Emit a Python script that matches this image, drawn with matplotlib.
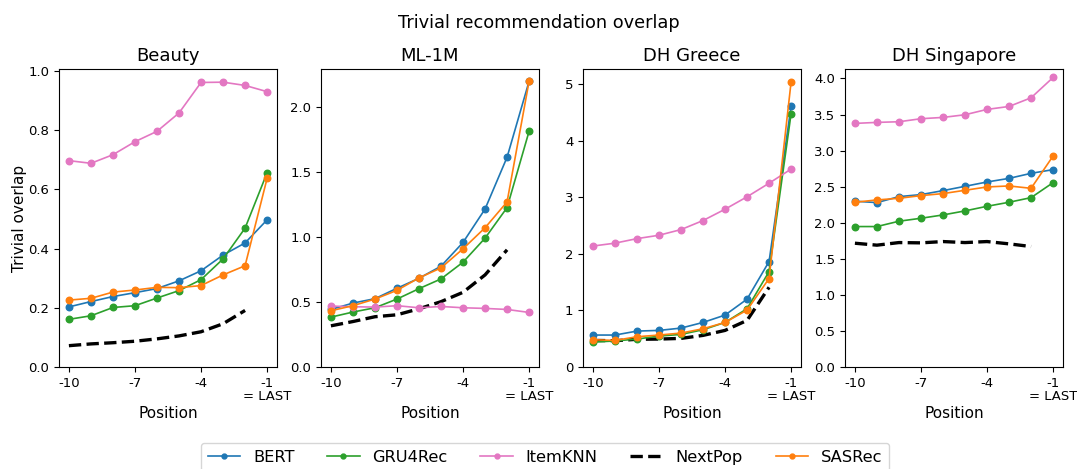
import matplotlib
matplotlib.use("Agg")
import matplotlib.pyplot as plt

positions = [-10, -9, -8, -7, -6, -5, -4, -3, -2, -1]
nextpop_positions = [-10, -9, -8, -7, -6, -5, -4, -3, -2]
tick_values = [-10, -7, -4, -1]
tick_labels = ["-10", "-7", "-4", "-1\n= LAST"]
datasets = ["Beauty", "ML-1M", "DH Greece", "DH Singapore"]
models = ["BERT", "GRU4Rec", "ItemKNN", "NextPop", "SASRec"]

# Beauty
beauty_bert = [0.203, 0.221, 0.238, 0.251, 0.265, 0.291, 0.325, 0.378, 0.419, 0.497]
beauty_gru = [0.161, 0.173, 0.201, 0.207, 0.233, 0.258, 0.295, 0.365, 0.469, 0.656]
beauty_knn = [0.697, 0.688, 0.717, 0.761, 0.796, 0.858, 0.961, 0.962, 0.951, 0.930]
beauty_pop = [0.072, 0.078, 0.082, 0.087, 0.095, 0.105, 0.119, 0.146, 0.191]
beauty_sas = [0.226, 0.232, 0.253, 0.260, 0.269, 0.268, 0.275, 0.311, 0.342, 0.637]

# ML-1M
ml_bert = [0.443, 0.492, 0.526, 0.606, 0.683, 0.776, 0.959, 1.216, 1.615, 2.200]
ml_gru = [0.384, 0.423, 0.456, 0.523, 0.603, 0.678, 0.807, 0.992, 1.227, 1.815]
ml_knn = [0.469, 0.464, 0.461, 0.472, 0.456, 0.466, 0.456, 0.451, 0.443, 0.420]
ml_pop = [0.317, 0.350, 0.387, 0.402, 0.448, 0.503, 0.575, 0.709, 0.902]
ml_sas = [0.433, 0.472, 0.523, 0.590, 0.686, 0.763, 0.910, 1.072, 1.271, 2.200]

# DH Greece
gr_bert = [0.565, 0.565, 0.635, 0.647, 0.688, 0.788, 0.918, 1.200, 1.865, 4.610]
gr_gru = [0.441, 0.460, 0.494, 0.547, 0.576, 0.659, 0.788, 1.030, 1.688, 4.480]
gr_knn = [2.139, 2.190, 2.270, 2.330, 2.430, 2.590, 2.790, 3.010, 3.250, 3.500]
gr_pop = [0.470, 0.465, 0.490, 0.494, 0.506, 0.559, 0.647, 0.824, 1.410]
gr_sas = [0.482, 0.470, 0.535, 0.565, 0.600, 0.676, 0.788, 1.006, 1.565, 5.040]

# DH Singapore
sg_bert = [2.298, 2.279, 2.362, 2.390, 2.445, 2.505, 2.565, 2.615, 2.685, 2.736]
sg_gru = [1.947, 1.947, 2.021, 2.062, 2.108, 2.164, 2.228, 2.284, 2.348, 2.556]
sg_knn = [3.377, 3.391, 3.400, 3.442, 3.460, 3.497, 3.571, 3.612, 3.732, 4.014]
sg_pop = [1.716, 1.689, 1.725, 1.721, 1.739, 1.725, 1.739, 1.707, 1.670]
sg_sas = [2.284, 2.316, 2.339, 2.376, 2.404, 2.450, 2.496, 2.510, 2.477, 2.925]

all_data = [
    [beauty_bert, beauty_gru, beauty_knn, beauty_pop, beauty_sas],
    [ml_bert, ml_gru, ml_knn, ml_pop, ml_sas],
    [gr_bert, gr_gru, gr_knn, gr_pop, gr_sas],
    [sg_bert, sg_gru, sg_knn, sg_pop, sg_sas],
]

colors = {"BERT": "#1f77b4", "GRU4Rec": "#2ca02c", "ItemKNN": "#e377c2",
          "NextPop": "black", "SASRec": "#ff7f0e"}

fig = plt.figure(figsize=(10.77, 4.69), dpi=100)
left0 = 59 / 1077
width = 218 / 1077
step = 262 / 1077
bottom = 1 - 367 / 469
height = (367 - 69) / 469

handles = []
for i, (name, series) in enumerate(zip(datasets, all_data)):
    ax = fig.add_axes([left0 + i * step, bottom, width, height])
    hs = []
    for model, vals in zip(models, series):
        if model == "NextPop":
            h, = ax.plot(nextpop_positions, vals, color="black", linestyle="--",
                         linewidth=2.4, label=model, zorder=2)
        else:
            h, = ax.plot(positions, vals, color=colors[model], marker="o",
                         markersize=4.7, linewidth=1.2, label=model, zorder=3)
        hs.append(h)
    if i == 0:
        handles = hs
        ax.set_ylabel("Trivial overlap", fontsize=11, labelpad=1)
    ax.set_ylim(bottom=0)
    ax.set_xticks(tick_values)
    ax.set_xticklabels(tick_labels)
    for lab in ax.get_xticklabels():
        lab.set_linespacing(1.0)
    ax.tick_params(labelsize=9.5)
    ax.set_xlabel("Position", fontsize=11, labelpad=2)
    ax.set_title(name, fontsize=13)

fig.suptitle("Trivial recommendation overlap", fontsize=12.8, y=0.97)
fig.legend(handles, models, loc="upper center", ncol=5, fontsize=11.7,
           bbox_to_anchor=(545 / 1077, 1 - 435 / 469), markerscale=0.75)

fig.savefig("out.png", dpi=100)
